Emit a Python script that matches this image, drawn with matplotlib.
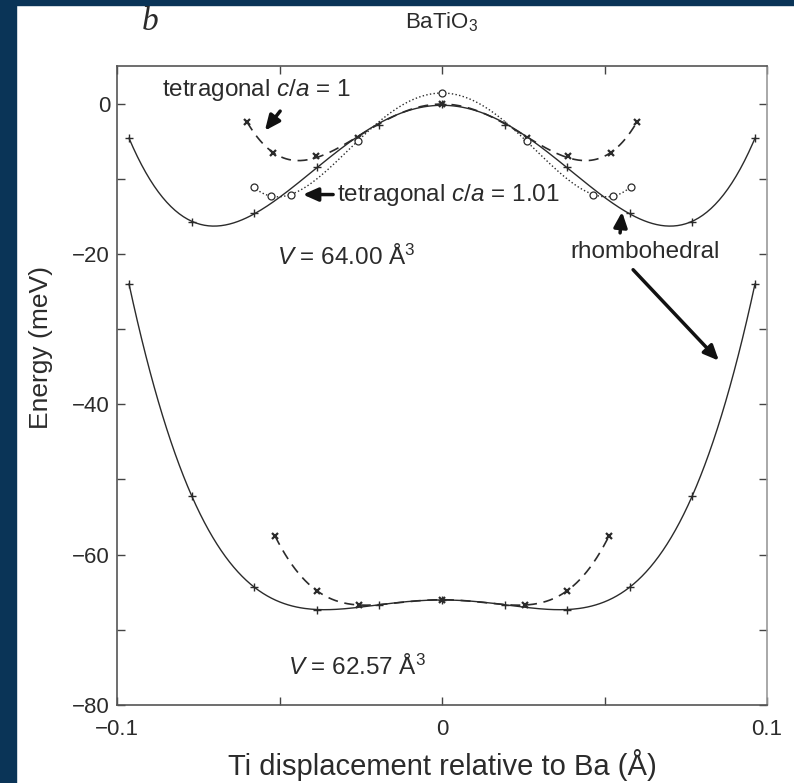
import matplotlib.pyplot as plt
import numpy as np
from matplotlib.patches import Rectangle

plt.rcParams['font.family'] = ['Liberation Sans', 'DejaVu Sans']
plt.rcParams['mathtext.fontset'] = 'custom'
plt.rcParams['mathtext.rm'] = 'Liberation Sans'
plt.rcParams['mathtext.it'] = 'Liberation Sans:italic'

# Ti displacement (A) and energies (meV), one side of each symmetric well
rh_x = [0.0, 0.0193, 0.0385, 0.0578, 0.077, 0.0963]
rh_e_64 = [0.0, -2.9, -8.5, -14.6, -15.7, -4.6]
rh_e_62 = [-66.0, -66.7, -67.3, -64.3, -52.2, -24.0]

tet_x_64 = [0.0, 0.026, 0.0388, 0.052, 0.060]
tet_e_64 = [0.0, -4.6, -7.0, -6.6, -2.4]

tet_x_62 = [0.0, 0.0255, 0.0385, 0.0514]
tet_e_62 = [-66.0, -66.7, -64.8, -57.5]

t101_x = [0.0, 0.026, 0.0465, 0.0525, 0.058]
t101_e = [1.4, -5.0, -12.1, -12.3, -11.1]

x_ticks = [-0.1, -0.05, 0, 0.05, 0.1]
x_labels = ['\u22120.1', '', '0', '', '0.1']
y_ticks = [0, -10, -20, -30, -40, -50, -60, -70, -80]
y_labels = ['0', '', '\u221220', '', '\u221240', '', '\u221260', '', '\u221280']

ink = '#2b2b2b'


def mirror(x, e):
    x = np.asarray(x)
    e = np.asarray(e)
    return np.concatenate([-x[::-1], x[1:]]), np.concatenate([e[::-1], e[1:]])


def smooth(x, e, deg):
    # even polynomial in x through the computed points
    c = np.polyfit(np.asarray(x) ** 2, e, deg)
    xs = np.linspace(-max(x), max(x), 300)
    return xs, np.polyval(c, xs ** 2)


fig = plt.figure(figsize=(7.94, 7.83), dpi=100)
fig.patches.append(Rectangle((0, 0), 16 / 794, 1, transform=fig.transFigure,
                             color='#0a3457', zorder=-5))
fig.patches.append(Rectangle((0, 1 - 5 / 783), 1, 5 / 783, transform=fig.transFigure,
                             color='#0a3457', zorder=-5))
ax = fig.add_axes([117 / 794, 1 - 705 / 783, 650 / 794, 639 / 783])

for xs, es, deg in [(rh_x, rh_e_64, 3), (rh_x, rh_e_62, 3)]:
    cx, cy = smooth(xs, es, deg)
    ax.plot(cx, cy, '-', color=ink, lw=1.0)
    mx, my = mirror(xs, es)
    ax.plot(mx, my, '+', color=ink, ms=6, mew=1.0)

for xs, es, deg in [(tet_x_64, tet_e_64, 3), (tet_x_62, tet_e_62, 3)]:
    cx, cy = smooth(xs, es, deg)
    ax.plot(cx, cy, '--', color=ink, lw=1.2, dashes=(6, 4))
    mx, my = mirror(xs, es)
    ax.plot(mx, my, 'x', color=ink, ms=5, mew=1.6)

cx, cy = smooth(t101_x, t101_e, 3)
ax.plot(cx, cy, ':', color=ink, lw=1.0)
mx, my = mirror(t101_x, t101_e)
ax.plot(mx, my, 'o', mfc='white', mec=ink, ms=5, mew=0.9)

ax.set_xlim(-0.1, 0.1)
ax.set_ylim(-80, 5)
ax.set_xticks(x_ticks)
ax.set_xticklabels(x_labels)
ax.set_yticks(y_ticks)
ax.set_yticklabels(y_labels)
ax.tick_params(direction='in', length=6, width=1, colors='#444', labelcolor=ink,
               labelsize=16, top=True, right=True)
ax.tick_params(axis='x', pad=10)
ax.tick_params(axis='y', pad=5)
for s in ax.spines.values():
    s.set_color('#555')
    s.set_linewidth(1.2)
ax.spines['right'].set_color('#999')

ax.set_xlabel('Ti displacement relative to Ba (\u00c5)', fontsize=21, color=ink)
ax.set_ylabel('Energy (meV)', fontsize=19, color=ink)
ax.xaxis.set_label_coords(0.5, -0.069)
ax.yaxis.set_label_coords(-0.099, 0.56)

fs = 17.5
ax.text(-0.0862, 1.8, 'tetragonal $c$/$a$ = 1', fontsize=fs, color=ink, va='center')
ax.text(-0.0323, -12.1, 'tetragonal $c$/$a$ = 1.01', fontsize=fs, color=ink, va='center')
ax.text(0.0394, -19.7, 'rhombohedral', fontsize=fs, color=ink, va='center')
ax.text(-0.0508, -20.4, '$V$ = 64.00 \u00c5$^3$', fontsize=fs, color=ink, va='center')
ax.text(-0.0474, -75.0, '$V$ = 62.57 \u00c5$^3$', fontsize=fs, color=ink, va='center')

arrow = dict(arrowstyle='-|>,head_length=0.9,head_width=0.4', color='#111', lw=2.5,
             shrinkA=0, shrinkB=0)
ax.annotate('', xy=(-0.0545, -3.6), xytext=(-0.0498, -1.0), arrowprops=arrow)
ax.annotate('', xy=(-0.0428, -12.1), xytext=(-0.0335, -12.1), arrowprops=arrow)
ax.annotate('', xy=(0.0554, -14.4), xytext=(0.0548, -17.2), arrowprops=arrow)
ax.annotate('', xy=(0.0852, -34.2), xytext=(0.0588, -22.1), arrowprops=arrow)

fig.text(442 / 794, 1 - 22 / 783, 'BaTiO$_3$', fontsize=16, color=ink, ha='center', va='center')
fig.text(150 / 794, 1 - 22 / 783, 'b', fontsize=24, color=ink, ha='center', va='center',
         family='Liberation Serif', style='italic')

fig.savefig('out.png', dpi=100)
